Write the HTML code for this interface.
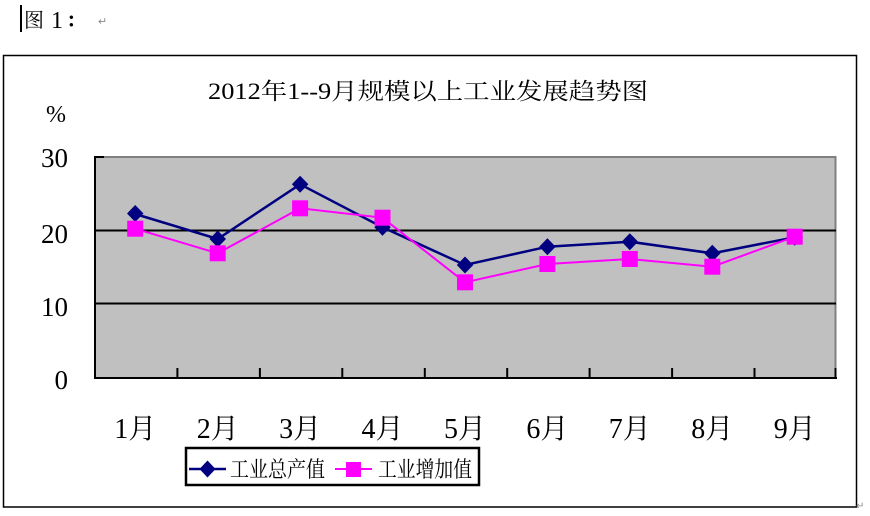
<!DOCTYPE html>
<html>
<head>
<meta charset="utf-8">
<style>
  html, body { margin: 0; padding: 0; background: #fff; }
  body { width: 870px; height: 516px; overflow: hidden; }
  svg { display: block; }
  text { font-family: "Liberation Serif", "Noto Serif CJK SC", "Noto Sans CJK SC", serif; fill: #000; }
</style>
</head>
<body>
<svg width="870" height="516" viewBox="0 0 870 516" xmlns="http://www.w3.org/2000/svg">
  <!-- header -->
  <rect x="20" y="5" width="2" height="27" fill="#000"/>
  <text x="24" y="27" font-size="20">图</text>
  <text x="51" y="28" font-size="24">1</text>
  <text x="66" y="27" font-size="20" font-weight="bold">：</text>
  <text x="98" y="25" font-size="11" style="fill:#888">↵</text>

  <!-- outer frame -->
  <rect x="3.5" y="55.5" width="853" height="451.5" fill="#fff" stroke="#000" stroke-width="1.5"/>
  <text x="856" y="509" font-size="10" style="fill:#888">↵</text>

  <!-- title -->
  <text x="208" y="99" font-size="23" textLength="440" lengthAdjust="spacingAndGlyphs">2012年1--9月规模以上工业发展趋势图</text>

  <!-- % -->
  <text x="56" y="122" font-size="24" text-anchor="middle">%</text>

  <!-- y labels -->
  <text x="68" y="167" font-size="27" text-anchor="end">30</text>
  <text x="68" y="243" font-size="27" text-anchor="end">20</text>
  <text x="68" y="316" font-size="27" text-anchor="end">10</text>
  <text x="68" y="389" font-size="27" text-anchor="end">0</text>

  <!-- plot area -->
  <rect x="94" y="156" width="742" height="222" fill="#c0c0c0"/>
  <line x1="94" y1="157" x2="836" y2="157" stroke="#808080" stroke-width="2"/>
  <line x1="835.5" y1="156" x2="835.5" y2="378" stroke="#808080" stroke-width="2"/>
  <!-- gridlines -->
  <line x1="94" y1="230.5" x2="836" y2="230.5" stroke="#000" stroke-width="2"/>
  <line x1="94" y1="303.5" x2="836" y2="303.5" stroke="#000" stroke-width="2"/>
  <!-- axes -->
  <line x1="95" y1="156" x2="95" y2="379" stroke="#000" stroke-width="2"/>
  <line x1="94" y1="378" x2="837" y2="378" stroke="#000" stroke-width="2"/>
  <line x1="94" y1="157" x2="104" y2="157" stroke="#000" stroke-width="2"/>
  <!-- x ticks -->
  <g stroke="#000" stroke-width="2">
    <line x1="177.4" y1="368" x2="177.4" y2="378"/>
    <line x1="259.9" y1="368" x2="259.9" y2="378"/>
    <line x1="342.3" y1="368" x2="342.3" y2="378"/>
    <line x1="424.8" y1="368" x2="424.8" y2="378"/>
    <line x1="507.2" y1="368" x2="507.2" y2="378"/>
    <line x1="589.6" y1="368" x2="589.6" y2="378"/>
    <line x1="672.1" y1="368" x2="672.1" y2="378"/>
    <line x1="754.5" y1="368" x2="754.5" y2="378"/>
    <line x1="835.5" y1="368" x2="835.5" y2="378"/>
  </g>

  <!-- series 1: navy diamonds -->
  <polyline fill="none" stroke="#000080" stroke-width="2.5"
    points="135.2,214 217.7,239 300.1,184.3 382.5,227.3 465,265 547.4,246.7 629.8,241.7 712.3,253.3 794.7,237.3"/>
  <g fill="#000080">
    <polygon points="135.2,205 143.5,213.5 135.2,222 127,213.5"/>
    <polygon points="217.7,230.5 226,239 217.7,247.5 209.5,239"/>
    <polygon points="300.1,175.8 308.4,184.3 300.1,192.8 291.9,184.3"/>
    <polygon points="382.5,218.8 390.8,227.3 382.5,235.8 374.3,227.3"/>
    <polygon points="465,256.5 473.3,265 465,273.5 456.8,265"/>
    <polygon points="547.4,238.2 555.7,246.7 547.4,255.2 539.2,246.7"/>
    <polygon points="629.8,233.2 638.1,241.7 629.8,250.2 621.6,241.7"/>
    <polygon points="712.3,244.8 720.6,253.3 712.3,261.8 704.1,253.3"/>
    <polygon points="794.7,228.8 803,237.3 794.7,245.8 786.5,237.3"/>
  </g>

  <!-- series 2: magenta squares -->
  <polyline fill="none" stroke="#ff00ff" stroke-width="2"
    points="135.2,228.7 217.7,253.3 300.1,208.3 382.5,217.7 465,282.3 547.4,264 629.8,259 712.3,266.7 794.7,236.7"/>
  <g fill="#ff00ff">
    <rect x="127.2" y="220.7" width="16" height="16"/>
    <rect x="209.7" y="245.3" width="16" height="16"/>
    <rect x="292.1" y="200.3" width="16" height="16"/>
    <rect x="374.5" y="209.7" width="16" height="16"/>
    <rect x="457" y="274.3" width="16" height="16"/>
    <rect x="539.4" y="256" width="16" height="16"/>
    <rect x="621.8" y="251" width="16" height="16"/>
    <rect x="704.3" y="258.7" width="16" height="16"/>
    <rect x="786.7" y="228.7" width="16" height="16"/>
  </g>

  <!-- x labels -->
  <g font-size="28" text-anchor="middle">
    <text x="135.2" y="438">1月</text>
    <text x="217.7" y="438">2月</text>
    <text x="300.1" y="438">3月</text>
    <text x="382.5" y="438">4月</text>
    <text x="465" y="438">5月</text>
    <text x="547.4" y="438">6月</text>
    <text x="629.8" y="438">7月</text>
    <text x="712.3" y="438">8月</text>
    <text x="794.7" y="438">9月</text>
  </g>

  <!-- legend -->
  <rect x="186" y="448" width="293" height="37" fill="#fff" stroke="#000" stroke-width="2.5"/>
  <line x1="189" y1="469" x2="226" y2="469" stroke="#000080" stroke-width="2.5"/>
  <polygon points="207.5,460.5 215.5,469 207.5,477.5 199.5,469" fill="#000080"/>
  <text x="230" y="477" font-size="22" textLength="95" lengthAdjust="spacingAndGlyphs">工业总产值</text>
  <line x1="335" y1="469" x2="372" y2="469" stroke="#ff00ff" stroke-width="2"/>
  <rect x="346" y="462" width="15" height="15" fill="#ff00ff"/>
  <text x="378" y="477" font-size="22" textLength="94" lengthAdjust="spacingAndGlyphs">工业增加值</text>
</svg>
</body>
</html>
